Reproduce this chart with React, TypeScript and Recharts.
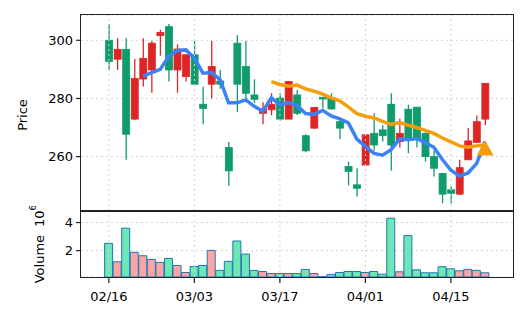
import { ComposedChart, Bar, Line, XAxis, YAxis, CartesianGrid, ReferenceLine, Cell } from 'recharts';

const dates = [
  '02/16', '02/17', '02/18', '02/19', '02/20', '02/23', '02/24', '02/25', '02/26', '02/27',
  '03/03', '03/04', '03/05', '03/06', '03/09', '03/10', '03/11', '03/12', '03/13', '03/16',
  '03/17', '03/18', '03/19', '03/20', '03/23', '03/24', '03/25', '03/26', '03/27', '03/31',
  '04/01', '04/02', '04/03', '04/06', '04/07', '04/08', '04/09', '04/10', '04/13', '04/14',
  '04/15', '04/16', '04/17', '04/20', '04/21',
];
const open = [300, 293.5, 296.9, 272.9, 286.7, 289.8, 301.6, 304.7, 289.8, 287.5, 295, 278, 284.9, 286, 263.1, 299, 291, 281.2, 274.9, 276.1, 280.1, 272.9, 281.2, 267.2, 269.8, 280.4, 280.1, 272, 256.6, 250.3, 257.1, 268, 269.2, 278, 265.2, 276.3, 277, 268, 260, 254.2, 248.6, 247.1, 258.9, 264.9, 272.9];
const high = [305.6, 300.7, 300.7, 293.6, 300.7, 299.8, 303.6, 305.6, 298.6, 295.2, 299.8, 284, 299.8, 289.8, 265, 301.8, 299.8, 286.6, 278.7, 281.8, 281.8, 286, 282.9, 267.7, 277, 280.6, 281.8, 272.3, 258.3, 256, 267.7, 274.9, 270.9, 281.8, 273, 277.8, 277.1, 268.3, 262, 254.3, 249.7, 258.9, 269.8, 274.1, 285.2];
const low = [289.8, 289.8, 258.9, 272.5, 284.1, 282, 294.7, 285.8, 282, 285.8, 284.4, 271.1, 280.1, 283.3, 250, 275.3, 278.7, 278.4, 271.1, 274.2, 272.3, 272.9, 274.3, 261.5, 269.6, 276.6, 276.1, 266.1, 250.1, 246.3, 256.9, 262, 265.2, 255.2, 263.1, 261.2, 263.1, 258.3, 253.2, 244, 244, 246.8, 258.9, 264.7, 270.9];
const close = [292.7, 296.9, 267.7, 286.9, 293.8, 299, 302.7, 289.8, 297, 295, 284.9, 276.6, 291, 284.9, 255.1, 284.9, 281.8, 279.7, 276.4, 278, 272.9, 285.8, 274.9, 262, 276.9, 279.8, 276.4, 269.8, 254.9, 249.1, 267.5, 264, 267.2, 264, 268, 265.7, 266.1, 260, 256, 247.1, 247.4, 256.2, 265.4, 272, 285.2];
const ma5 = [null, null, null, null, 287.6, 288.9, 290.0, 294.4, 296.5, 296.7, 293.9, 288.7, 288.9, 286.5, 278.5, 278.5, 279.5, 277.3, 275.6, 280.2, 277.8, 278.6, 277.6, 274.8, 274.5, 275.9, 274.0, 273.0, 271.6, 266.0, 263.5, 261.1, 260.5, 262.4, 266.1, 265.8, 266.2, 264.8, 263.2, 259.0, 255.3, 253.3, 254.4, 257.6, 265.2];
const ma20 = [null, null, null, null, null, null, null, null, null, null, null, null, null, null, null, null, null, null, null, 285.8, 284.8, 284.2, 284.6, 283.3, 282.5, 281.5, 280.2, 279.2, 277.1, 274.8, 273.9, 273.3, 272.1, 271.1, 271.7, 270.8, 270.0, 269.0, 268.0, 266.4, 265.1, 263.7, 263.2, 263.7, 264.1];
const signal = [null, null, null, null, null, null, null, null, null, null, null, null, null, null, null, null, null, null, null, null, null, null, null, null, null, null, null, null, null, null, null, null, null, null, null, null, null, null, null, null, null, null, null, null, 262.8];
const volume = [2.52, 1.21, 3.6, 1.88, 1.64, 1.38, 1.17, 1.45, 0.95, 0.45, 0.88, 0.95, 2.02, 0.6, 1.24, 2.69, 1.76, 0.6, 0.52, 0.38, 0.38, 0.38, 0.38, 0.67, 0.38, 0.16, 0.31, 0.45, 0.52, 0.52, 0.45, 0.52, 0.33, 4.31, 0.5, 3.07, 0.64, 0.43, 0.43, 0.86, 0.71, 0.57, 0.67, 0.6, 0.43];

const xTicks = ['02/16', '03/03', '03/17', '04/01', '04/15'];
const priceTicks = [260, 280, 300];
const volumeTicks = [2, 4];

const UP = '#dc2626';
const DOWN = '#0f9b6b';
const VOL_UP = '#fca5a5';
const VOL_DOWN = '#6ee7b7';
const FRAME = '#222';
const GRID = '#d4d4d4';

const rows = dates.map((date, i) => ({
  date,
  open: open[i],
  high: high[i],
  low: low[i],
  close: close[i],
  ma5: ma5[i],
  ma20: ma20[i],
  signal: signal[i],
  volume: volume[i],
  up: close[i] >= open[i],
}));

const pad = { left: 23.6, right: 23.6 };

function Candle(props: any) {
  const { x, y, width, height, payload } = props;
  if (x == null || y == null) return null;
  const top = Math.min(y, y + height);
  const h = Math.abs(height);
  const k = payload.high > payload.low ? h / (payload.high - payload.low) : 0;
  const bTop = top + (payload.high - Math.max(payload.open, payload.close)) * k;
  const bBot = top + (payload.high - Math.min(payload.open, payload.close)) * k;
  const cx = x + width / 2;
  const c = payload.up ? UP : DOWN;
  return (
    <g>
      <line x1={cx} x2={cx} y1={top} y2={top + h} stroke={c} strokeWidth={1.3} />
      <rect x={x} y={bTop} width={width} height={Math.max(bBot - bTop, 1)} fill={c} stroke={c} strokeWidth={0.8} />
    </g>
  );
}

function Triangle(props: any) {
  const { cx, cy } = props;
  if (cx == null || cy == null) return null;
  return <path d={`M${cx},${cy - 8} L${cx + 8.5},${cy + 7} L${cx - 8.5},${cy + 7} Z`} fill="#f59e0b" />;
}

function PriceTitle(props: any) {
  const { viewBox } = props;
  const cy = viewBox.y + viewBox.height / 2 + 2;
  return (
    <text x={22} y={cy} transform={`rotate(-90 22 ${cy})`} textAnchor="middle" dominantBaseline="central" fontSize={13} fill="#000">
      Price
    </text>
  );
}

function VolumeTitle(props: any) {
  const { viewBox } = props;
  const cy = viewBox.y + viewBox.height / 2;
  return (
    <text x={39} y={cy} transform={`rotate(-90 39 ${cy})`} textAnchor="middle" dominantBaseline="central" fontSize={13} fill="#000">
      Volume
      <tspan dx={8}>10</tspan>
      <tspan dy={-6} fontSize={9}>6</tspan>
    </text>
  );
}

export default function App() {
  const tickLine = { stroke: FRAME, strokeWidth: 1.2 };
  return (
    <div style={{ position: 'absolute', left: 0, top: 0, width: 527, height: 322, background: '#fff', fontFamily: '"DejaVu Sans", sans-serif' }}>
      <div style={{ position: 'absolute', left: 0, top: 0 }}>
        <ComposedChart width={527} height={216} data={rows} margin={{ top: 15, right: 14, bottom: 5, left: 0 }}>
          <CartesianGrid vertical={false} stroke={GRID} strokeDasharray="2 3" />
          {xTicks.map((t) => (
            <ReferenceLine key={t} x={t} stroke={GRID} strokeDasharray="2 3" />
          ))}
          <XAxis dataKey="date" padding={pad} hide />
          <YAxis
            domain={[241.3, 308.7]}
            ticks={priceTicks}
            allowDataOverflow
            width={81}
            tickSize={5}
            tickMargin={3}
            axisLine={false}
            tickLine={tickLine}
            tick={{ fontSize: 13, fill: '#000' }}
            label={<PriceTitle />}
          />
          <Bar dataKey={(d: any) => [d.low, d.high]} barSize={7} shape={<Candle />} isAnimationActive={false} />
          <Line dataKey="ma5" stroke="#3b82f6" strokeWidth={3.5} dot={false} type="linear" isAnimationActive={false} />
          <Line dataKey="ma20" stroke="#f59e0b" strokeWidth={3.5} dot={false} type="linear" isAnimationActive={false} />
          <Line dataKey="signal" stroke="none" dot={<Triangle />} activeDot={false} isAnimationActive={false} />
        </ComposedChart>
      </div>
      <div style={{ position: 'absolute', left: 0, top: 206 }}>
        <ComposedChart width={527} height={116} data={rows} margin={{ top: 5, right: 14, bottom: 0, left: 0 }}>
          <CartesianGrid vertical={false} stroke={GRID} strokeDasharray="2 3" />
          {xTicks.map((t) => (
            <ReferenceLine key={t} x={t} stroke={GRID} strokeDasharray="2 3" />
          ))}
          <XAxis
            dataKey="date"
            padding={pad}
            height={45}
            interval={9}
            tickSize={6}
            tickMargin={9}
            axisLine={false}
            tickLine={tickLine}
            tick={{ fontSize: 13, fill: '#000' }}
          />
          <YAxis
            domain={[0.13, 4.82]}
            ticks={volumeTicks}
            allowDataOverflow
            width={81}
            tickSize={5}
            tickMargin={3}
            axisLine={false}
            tickLine={tickLine}
            tick={{ fontSize: 13, fill: '#000' }}
            label={<VolumeTitle />}
          />
          <Bar dataKey="volume" barSize={8} stroke="#1f77b4" strokeWidth={1} isAnimationActive={false}>
            {rows.map((r, i) => (
              <Cell key={i} fill={r.up ? VOL_UP : VOL_DOWN} />
            ))}
          </Bar>
        </ComposedChart>
      </div>
      <div style={{ position: 'absolute', left: 80.2, top: 14.2, width: 433.6, height: 263.6, boxSizing: 'border-box', border: `1.6px solid ${FRAME}`, pointerEvents: 'none' }} />
      <div style={{ position: 'absolute', left: 80.2, top: 210.2, width: 433.6, height: 1.6, background: FRAME, pointerEvents: 'none' }} />
    </div>
  );
}
